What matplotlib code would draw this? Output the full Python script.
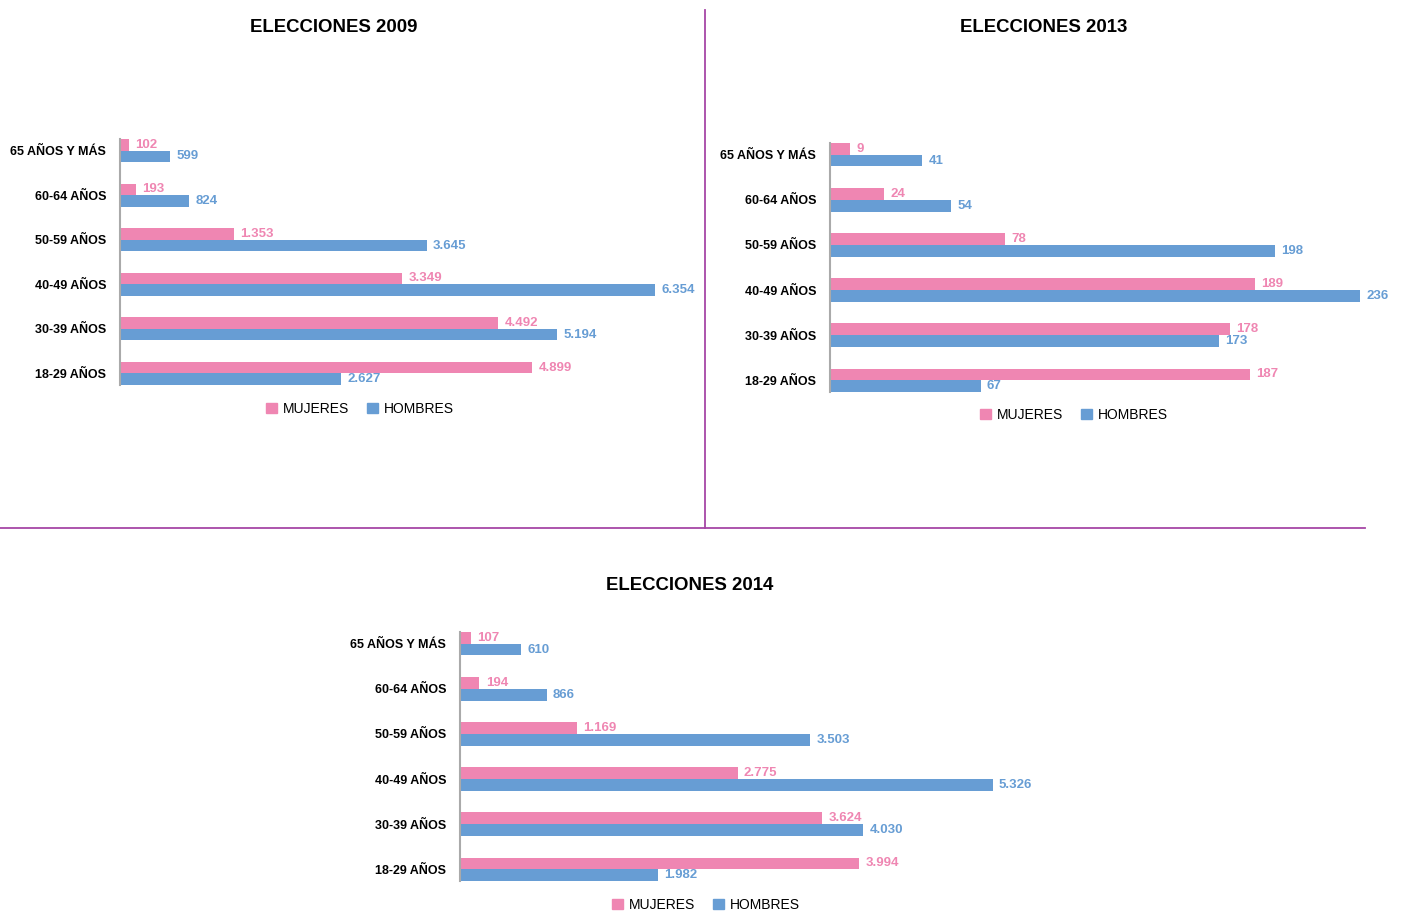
import matplotlib
matplotlib.use('Agg')
import matplotlib.pyplot as plt
from matplotlib.patches import Patch
from matplotlib.lines import Line2D

plt.rcParams['font.family'] = ['Liberation Sans', 'DejaVu Sans']

# datos (de abajo hacia arriba)
edades = ['18-29 AÑOS', '30-39 AÑOS', '40-49 AÑOS', '50-59 AÑOS', '60-64 AÑOS', '65 AÑOS Y MÁS']
mujeres_2009 = [4899, 4492, 3349, 1353, 193, 102]
hombres_2009 = [2627, 5194, 6354, 3645, 824, 599]
mujeres_2013 = [187, 178, 189, 78, 24, 9]
hombres_2013 = [67, 173, 236, 198, 54, 41]
mujeres_2014 = [3994, 3624, 2775, 1169, 194, 107]
hombres_2014 = [1982, 4030, 5326, 3503, 866, 610]

ROSA = '#ef86b2'
AZUL = '#679dd4'
MORADO = '#a646a6'

W, H = 1403, 913
fig = plt.figure(figsize=(W / 100, H / 100), dpi=100)


def fmt(v):
    return f'{v:,}'.replace(',', '.')


def grafico(box, xmax, muj, hom, titulo, tpos, lpos):
    left, top, right, bottom = box
    ax = fig.add_axes([left / W, 1 - bottom / H, (right - left) / W, (bottom - top) / H])
    h = 0.26
    y = list(range(len(edades)))
    ax.barh([i + h / 2 for i in y], muj, height=h, color=ROSA)
    ax.barh([i - h / 2 for i in y], hom, height=h, color=AZUL)
    for i in y:
        ax.annotate(fmt(muj[i]), (muj[i], i + h / 2), xytext=(4.5, 0), textcoords='offset points',
                    va='center', ha='left', color=ROSA, fontsize=9.5, fontweight='bold')
        ax.annotate(fmt(hom[i]), (hom[i], i - h / 2), xytext=(4.5, 0), textcoords='offset points',
                    va='center', ha='left', color=AZUL, fontsize=9.5, fontweight='bold')
    ax.set_xlim(0, xmax)
    ax.set_ylim(-h, len(edades) - 1 + h)
    ax.set_yticks(y)
    ax.set_yticklabels(edades, fontsize=9, fontweight='bold')
    ax.tick_params(axis='y', length=0, pad=10)
    ax.set_xticks([])
    for s in ['top', 'right', 'bottom']:
        ax.spines[s].set_visible(False)
    ax.spines['left'].set_color('#aaaaaa')
    ax.spines['left'].set_linewidth(1.5)
    fig.text(tpos[0] / W, 1 - tpos[1] / H, titulo, ha='center', va='center',
             fontsize=13.4, fontweight='bold')
    handles = [Patch(color=ROSA, label='MUJERES'), Patch(color=AZUL, label='HOMBRES')]
    fig.legend(handles=handles, loc='center', bbox_to_anchor=(lpos[0] / W, 1 - lpos[1] / H),
               ncol=2, frameon=False, fontsize=10, handlelength=0.8, handleheight=0.8,
               handletextpad=0.4, columnspacing=1.3)
    return ax


grafico((120, 139, 700, 385), 6890, mujeres_2009, hombres_2009, 'ELECCIONES 2009', (334, 27), (360, 409))
grafico((830, 143, 1395, 392), 251.5, mujeres_2013, hombres_2013, 'ELECCIONES 2013', (1044, 27), (1074, 415))
grafico((460, 632, 1100, 881), 6400, mujeres_2014, hombres_2014, 'ELECCIONES 2014', (690, 585), (706, 905))

# líneas divisorias
fig.add_artist(Line2D([705 / W, 705 / W], [1 - 10 / H, 1 - 528 / H], color=MORADO, lw=1.3))
fig.add_artist(Line2D([0, 1365 / W], [1 - 528 / H, 1 - 528 / H], color=MORADO, lw=1.3))

fig.savefig('out.png', dpi=100)
